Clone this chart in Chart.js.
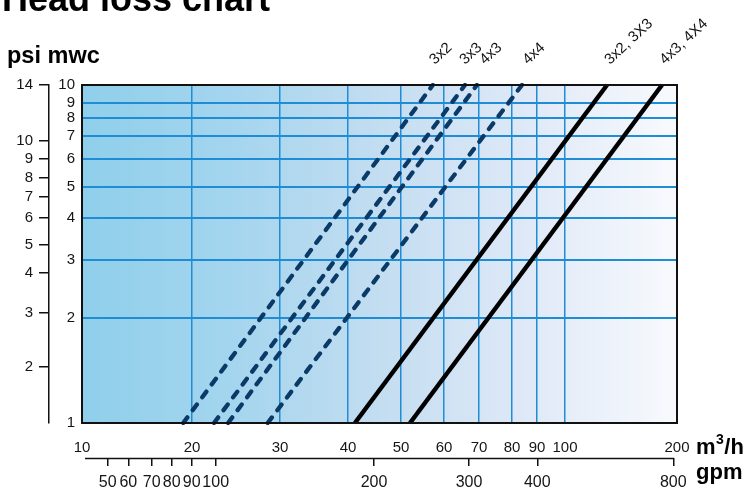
<!DOCTYPE html>
<html><head><meta charset="utf-8">
<script src="https://cdn.jsdelivr.net/npm/chart.js@4.4.1/dist/chart.umd.min.js"></script>
<style>html,body{margin:0;padding:0;background:#fff;overflow:hidden}</style>
</head><body>
<canvas id="c" width="749" height="492"></canvas>
<script>
// ---------- data ----------
const seriesLabels   = ['3x2', '3x3', '4x3', '4x4', '3x2, 3X3', '4x3, 4X4'];
const flowAtLowHead  = [19.2, 22.5, 24.1, 28.6, 41.3, 52.1];   // m3/h at 1 mwc
const flowAtHighHead = [57.4, 66.0, 69.4, 84.0, 137.5, 186.6]; // m3/h at 10 mwc
const headRange      = [1, 10];                                 // mwc
const seriesDashed   = [true, true, true, true, false, false];
const flowTicks = [10, 20, 30, 40, 50, 60, 70, 80, 90, 100, 200];   // m3/h
const gpmTicks  = [50, 60, 70, 80, 90, 100, 200, 300, 400, 800];    // gpm
const mwcTicks  = [1, 2, 3, 4, 5, 6, 7, 8, 9, 10];                  // mwc
const psiTicks  = [2, 3, 4, 5, 6, 7, 8, 9, 10, 14];                 // psi

// ---------- layout: hand-drawn (non-uniform) axis spacing, [value, fraction of axis length] ----------
const AXIS_WARP = {
  x:  [[10,0],[20,0.1849],[30,0.3328],[40,0.4471],[50,0.5361],[60,0.6084],[70,0.6672],[80,0.7227],[90,0.7647],[100,0.8118],[200,1]],
  x2: [[37.5,0],[50,0.0432],[60,0.0778],[70,0.1171],[80,0.1508],[90,0.1844],[100,0.2247],[200,0.4908],[300,0.6504],[400,0.7652],[800,0.9938],[812,1]],
  y:  [[1,0],[2,0.3098],[3,0.4814],[4,0.6074],[5,0.6991],[6,0.7802],[7,0.85],[8,0.9038],[9,0.9482],[10,1]],
  y2: [[1.3,0],[2,0.1657],[3,0.3254],[4,0.4438],[5,0.5266],[6,0.6065],[7,0.6686],[8,0.7249],[9,0.7811],[10,0.8343],[14,1]]
};
const AXIS_TICKS = { x: flowTicks, x2: gpmTicks, y: mwcTicks, y2: psiTicks };
const labelShift = [2, 0, 8, 6, 3, 3];

function warp(a, v) {
  let i = 0;
  if (v >= a[a.length - 1][0]) i = a.length - 2;
  else if (v > a[0][0]) { while (v > a[i + 1][0]) i++; }
  const [v0, f0] = a[i], [v1, f1] = a[i + 1];
  return f0 + (v - v0) / (v1 - v0) * (f1 - f0);
}
function unwarp(a, f) {
  let i = 0;
  if (f >= a[a.length - 1][1]) i = a.length - 2;
  else if (f > a[0][1]) { while (f > a[i + 1][1]) i++; }
  const [v0, f0] = a[i], [v1, f1] = a[i + 1];
  return v0 + (f - f0) / (f1 - f0) * (v1 - v0);
}
class PiecewiseScale extends Chart.LinearScale {
  determineDataLimits() { const a = AXIS_WARP[this.id]; this.min = a[0][0]; this.max = a[a.length - 1][0]; }
  buildTicks() { return AXIS_TICKS[this.id].map(v => ({ value: v })); }
  getPixelForValue(v) { return this.getPixelForDecimal(warp(AXIS_WARP[this.id], v)); }
  getValueForPixel(p) { return unwarp(AXIS_WARP[this.id], this.getDecimalForPixel(p)); }
}
PiecewiseScale.id = 'piecewise';
PiecewiseScale.defaults = {};
Chart.register(PiecewiseScale);

const FONT = "'Liberation Sans', Arial, sans-serif";
const GRID = '#1f8cd6';
const TXT = '#151515';

const datasets = seriesLabels.map((name, i) => ({
  label: name,
  data: [{ x: flowAtLowHead[i], y: headRange[0] }, { x: flowAtHighHead[i], y: headRange[1] }],
  borderColor: seriesDashed[i] ? '#0a3a68' : '#000000',
  borderWidth: seriesDashed[i] ? 4.3 : 4.5,
  borderDash: seriesDashed[i] ? [7, 9] : [],
  borderCapStyle: seriesDashed[i] ? 'round' : 'butt',
  pointRadius: 0, fill: false, tension: 0,
  xAxisID: 'x', yAxisID: 'y'
}));

const bgPlugin = {
  id: 'bg',
  beforeDraw(chart) {
    const { ctx, chartArea: a } = chart;
    const g = ctx.createLinearGradient(a.left, 0, a.right, 0);
    g.addColorStop(0, '#8fcfeb');
    g.addColorStop(0.25, '#a4d5ee');
    g.addColorStop(0.5, '#c3ddf1');
    g.addColorStop(0.75, '#dfe9f7');
    g.addColorStop(1, '#f8fafd');
    ctx.save(); ctx.fillStyle = g; ctx.fillRect(a.left, a.top, a.right - a.left, a.bottom - a.top); ctx.restore();
  },
  afterDatasetsDraw(chart) {
    const { ctx, chartArea: a } = chart;
    ctx.save(); ctx.strokeStyle = '#111'; ctx.lineWidth = 2;
    ctx.strokeRect(a.left, a.top, a.right - a.left, a.bottom - a.top); ctx.restore();
  },
  afterDraw(chart) {
    const { ctx, chartArea: a } = chart;
    ctx.save();
    ctx.fillStyle = '#000';
    ctx.textBaseline = 'alphabetic';
    ctx.textAlign = 'left';
    // clipped page title
    ctx.font = `bold 36px ${FONT}`;
    ctx.fillText('Head loss chart', 2, 11);
    // y axis title
    ctx.font = `bold 23.5px ${FONT}`;
    ctx.fillText('psi mwc', 7, 63);
    // x axis units
    ctx.font = `bold 22px ${FONT}`;
    let x = 696;
    ctx.fillText('m', x, 454); x += ctx.measureText('m').width;
    ctx.font = `bold 14px ${FONT}`;
    ctx.fillText('3', x + 0.5, 444); x += ctx.measureText('3').width + 1;
    ctx.font = `bold 22px ${FONT}`;
    ctx.fillText('/h', x, 454);
    ctx.fillText('gpm', 696, 479);
    // gpm axis line
    const s2 = chart.scales.x2;
    ctx.strokeStyle = '#111'; ctx.lineWidth = 1.5;
    ctx.beginPath();
    ctx.moveTo(a.left + 3, s2.top + 0.5);
    ctx.lineTo(s2.getPixelForValue(gpmTicks[gpmTicks.length - 1]) + 0.75, s2.top + 0.5);
    ctx.stroke();
    // series labels at the top end of each line
    ctx.font = `15px ${FONT}`;
    ctx.fillStyle = '#111';
    chart.data.datasets.forEach((ds, i) => {
      const pt = chart.getDatasetMeta(i).data[1];
      ctx.save();
      ctx.translate(pt.x + labelShift[i], a.top - 20);
      ctx.rotate(-43 * Math.PI / 180);
      ctx.fillText(ds.label, 0, 0);
      ctx.restore();
    });
    ctx.restore();
  }
};

const tickFont = { family: FONT, size: 15 };
const gpmFont = { family: FONT, size: 16 };
new Chart(document.getElementById('c'), {
  type: 'line',
  data: { datasets },
  options: {
    responsive: false, animation: false, events: [],
    layout: { padding: { top: 85, right: 72, left: 0, bottom: 0 } },
    plugins: { legend: { display: false }, tooltip: { enabled: false }, title: { display: false } },
    scales: {
      x: {
        type: 'piecewise', position: 'bottom', weight: 0,
        grid: { color: GRID, lineWidth: 1.5, drawTicks: false },
        border: { display: false },
        ticks: { autoSkip: false, maxRotation: 0, minRotation: 0, padding: 16, color: TXT, font: tickFont, callback: v => String(v) },
        afterFit: s => { s.height = 35; }
      },
      x2: {
        type: 'piecewise', position: 'bottom', weight: 1,
        grid: { drawOnChartArea: false, color: '#111', lineWidth: 1.5, tickLength: 8 },
        border: { display: false },
        ticks: { autoSkip: false, maxRotation: 0, minRotation: 0, padding: 7, color: TXT, font: gpmFont, callback: v => String(v) },
        afterFit: s => { s.height = 34; }
      },
      y: {
        type: 'piecewise', position: 'left', weight: 0,
        grid: { color: GRID, lineWidth: 2, drawTicks: false },
        border: { display: false },
        ticks: { autoSkip: false, padding: 7, color: TXT, font: tickFont, callback: v => String(v) },
        afterFit: s => { s.width = 33; }
      },
      y2: {
        type: 'piecewise', position: 'left', weight: 1,
        grid: { drawOnChartArea: false, color: '#111', lineWidth: 1.5, tickLength: 10 },
        border: { display: true, color: '#111', width: 1.5 },
        ticks: { autoSkip: false, padding: 6, color: TXT, font: tickFont, callback: v => String(v) },
        afterFit: s => { s.width = 49; }
      }
    }
  },
  plugins: [bgPlugin]
});
</script>
</body></html>
